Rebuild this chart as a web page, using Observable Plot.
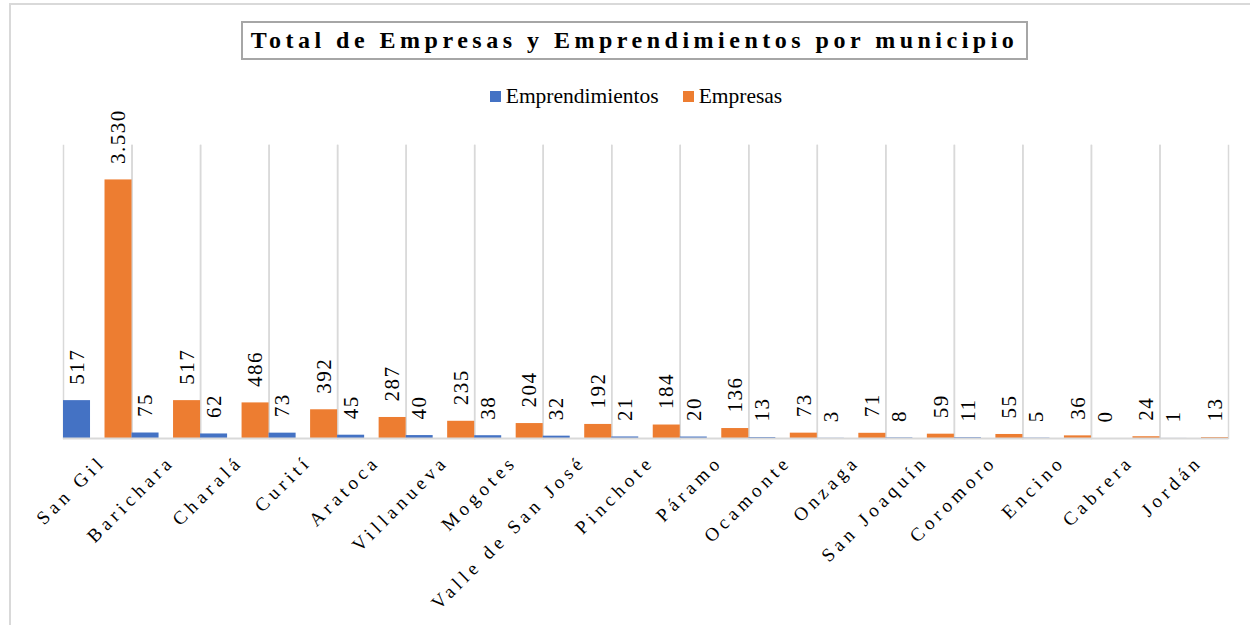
<!DOCTYPE html>
<html><head><meta charset="utf-8">
<script src="https://cdn.jsdelivr.net/npm/d3@7"></script>
<script src="https://cdn.jsdelivr.net/npm/@observablehq/plot@0.6"></script>
<style>
body{margin:0;background:#fff;font-family:"Liberation Serif","Times New Roman",serif;color:#000;}
#wrap{position:relative;width:1250px;height:625px;overflow:hidden;background:#fff;}
#border{position:absolute;left:9px;top:3px;width:1400px;height:800px;border-left:2px solid #d9d9d9;border-top:2px solid #d9d9d9;pointer-events:none;}
#chart{position:absolute;left:0;top:0;}
#header{position:absolute;left:0;top:0;width:1250px;height:130px;z-index:2;}
#title{position:absolute;left:241px;top:21px;width:787px;height:39px;box-sizing:border-box;border:2px solid #a6a6a6;display:flex;align-items:center;justify-content:center;font-weight:bold;font-size:24px;letter-spacing:4.5px;white-space:nowrap;background:#fff;}
#legend{position:absolute;top:84px;left:0;width:1272px;display:flex;justify-content:center;align-items:center;font-size:21.5px;}
.item{display:flex;align-items:center;margin:0 12px;}
.sw{width:11px;height:11px;margin-right:5px;}
#chart svg g[aria-label="fx-axis tick label"] text{letter-spacing:4.5px;}
#chart svg g[aria-label="text"] text{letter-spacing:1.5px;}
</style>
</head><body>
<div id="wrap">
  <div id="chart"></div>
  <div id="header">
    <div id="title">Total de Empresas y Emprendimientos por municipio</div>
    <div id="legend"></div>
  </div>
  <div id="border"></div>
</div>
<script>
const municipios = ["San Gil","Barichara","Charalá","Curití","Aratoca","Villanueva","Mogotes","Valle de San José","Pinchote","Páramo","Ocamonte","Onzaga","San Joaquín","Coromoro","Encino","Cabrera","Jordán"];
const emprendimientos = [517,75,62,73,45,40,38,32,21,20,13,3,8,11,5,0,1];
const empresas = [3530,517,486,392,287,235,204,192,184,136,73,71,59,55,36,24,13];
const series = ["Emprendimientos","Empresas"];
const colores = ["#4472C4","#ED7D31"];

const data = municipios.flatMap((m, i) => [
  {municipio: m, serie: series[0], valor: emprendimientos[i]},
  {municipio: m, serie: series[1], valor: empresas[i]}
]);

const locale = d3.formatLocale({decimal: ",", thousands: ".", grouping: [3], currency: ["$", ""]});
const fmt = locale.format(",");

// legend
const legend = document.getElementById("legend");
series.forEach((s, i) => {
  const it = document.createElement("div");
  it.className = "item";
  it.innerHTML = `<span class="sw" style="background:${colores[i]}"></span><span>${s}</span>`;
  legend.appendChild(it);
});

const serif = "'Liberation Serif', 'Times New Roman', serif";
const chart = Plot.plot({
  width: 1250,
  height: 625,
  marginLeft: 63,
  marginRight: 22,
  marginTop: 145,
  marginBottom: 187,
  fx: {domain: municipios, padding: 0, round: false, label: null, axis: null},
  x: {domain: series, paddingInner: 0.349, paddingOuter: 0, round: false, axis: null},
  y: {domain: [0, 4000], axis: null},
  color: {domain: series, range: colores},
  style: {fontFamily: serif, fontSize: "19px", color: "#000", background: "white", overflow: "visible"},
  marks: [
    Plot.frame({anchor: "left", stroke: "#d9d9d9", strokeWidth: 1.5}),
    Plot.frame({anchor: "right", stroke: "#d9d9d9", strokeWidth: 1.5}),
    Plot.barY(data, {fx: "municipio", x: "serie", y: "valor", fill: "serie"}),
    Plot.ruleY([0], {stroke: "#d9d9d9", strokeWidth: 2}),
    Plot.text(data, {fx: "municipio", x: "serie", y: "valor", text: d => fmt(d.valor), rotate: -90, textAnchor: "start", dy: -16, fontSize: 21, fontFamily: serif, fill: "#000"}),
    Plot.axisFx({anchor: "bottom", label: null, tickSize: 0, tickPadding: 20, tickRotate: -45, dx: 5, fontSize: 19, fill: "#000"})
  ]
});
document.getElementById("chart").appendChild(chart);
</script>
</body></html>
